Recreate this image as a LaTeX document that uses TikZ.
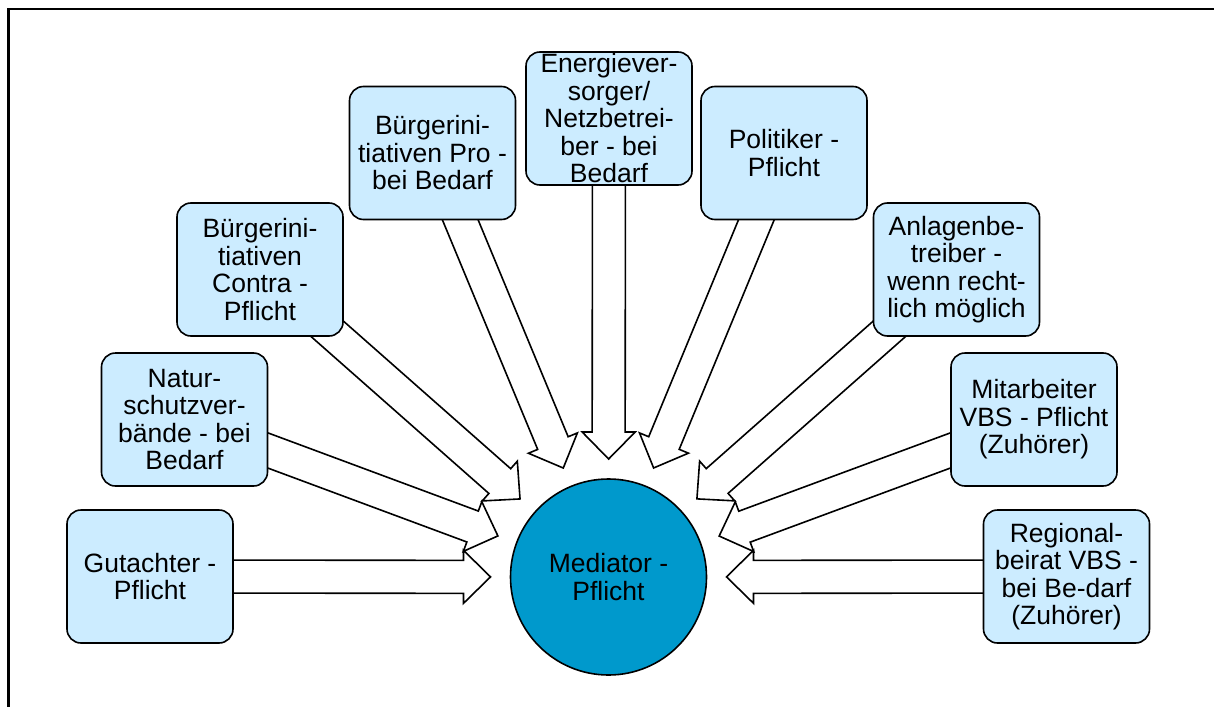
\documentclass[tikz,border=0pt]{standalone}
\usepackage{fontspec}
\setmainfont{Liberation Sans}
\usetikzlibrary{calc}
\pgfdeclarelayer{background}
\pgfsetlayers{background,main}
\definecolor{boxfill}{HTML}{CCECFF}
\definecolor{medfill}{HTML}{0099CC}
\tikzset{
  party/.style={draw=black, line width=1.6pt, fill=boxfill, rounded corners=14pt,
    minimum width=166pt, minimum height=133pt, inner sep=0pt, align=center,
    font=\fontsize{26.5}{27.5}\selectfont},
  med/.style={circle, draw=black, line width=1.6pt, fill=medfill, minimum size=196pt,
    inner sep=0pt, align=center, font=\fontsize{26.5}{27.5}\selectfont},
  blockarrow/.style={draw=black, line width=1.6pt, fill=white, line join=miter},
  frameline/.style={line width=2.7pt, line cap=rect, line join=miter}
}
\newcommand\mediatorarrow[1]{%
  \path[blockarrow] let \p1=($(m.center)!16.5pt!90:(#1.center)$),
            \p2=($(m.center)!26.5pt!90:(#1.center)$),
            \p3=($(m.center)!118pt!(#1.center)$),
            \p4=($(m.center)!145pt!(#1.center)$),
            \p5=(m.center),
            \p6=(#1.center) in
    (\x6+\x1-\x5, \y6+\y1-\y5) -- (\x4+\x1-\x5, \y4+\y1-\y5)
    -- (\x4+\x2-\x5, \y4+\y2-\y5) -- (\x3, \y3)
    -- (\x4-\x2+\x5, \y4-\y2+\y5) -- (\x4-\x1+\x5, \y4-\y1+\y5)
    -- (\x6-\x1+\x5, \y6-\y1+\y5) -- cycle;%
}
\begin{document}
\begin{tikzpicture}[x=1pt, y=-1pt]
\useasboundingbox (0,0) rectangle (1214,706);
\draw[frameline] (8.3,706) -- (8.3,9) -- (1214,9);

\node[med] (m) at (608.5,577) {Mediator -\\Pflicht};

\node[party] (g)  at (150,576.5)  {Gutachter -\\Pflicht};
\node[party] (n)  at (184.5,419.5) {Natur-\\schutzver-\\bände - bei\\Bedarf};
\node[party] (c)  at (260,269.5)  {Bürgerini-\\tiativen\\Contra -\\Pflicht};
\node[party] (p)  at (432.5,153)  {Bürgerini-\\tiativen Pro -\\bei Bedarf};
\node[party] (e)  at (609,118.5)  {Energiever-\\sorger/\\Netzbetrei-\\ber - bei\\Bedarf};
\node[party] (po) at (784,153)    {Politiker -\\Pflicht};
\node[party] (a)  at (956.5,269.5) {Anlagenbe-\\treiber -\\wenn recht-\\lich möglich};
\node[party] (mi) at (1034,419.5) {Mitarbeiter\\VBS - Pflicht\\(Zuhörer)};
\node[party] (r)  at (1066.5,576.5) {Regional-\\beirat VBS -\\bei Be-darf\\(Zuhörer)};

\begin{pgfonlayer}{background}
\foreach \b in {g,n,c,p,e,po,a,mi,r}{\mediatorarrow{\b}}
\end{pgfonlayer}
\end{tikzpicture}
\end{document}
